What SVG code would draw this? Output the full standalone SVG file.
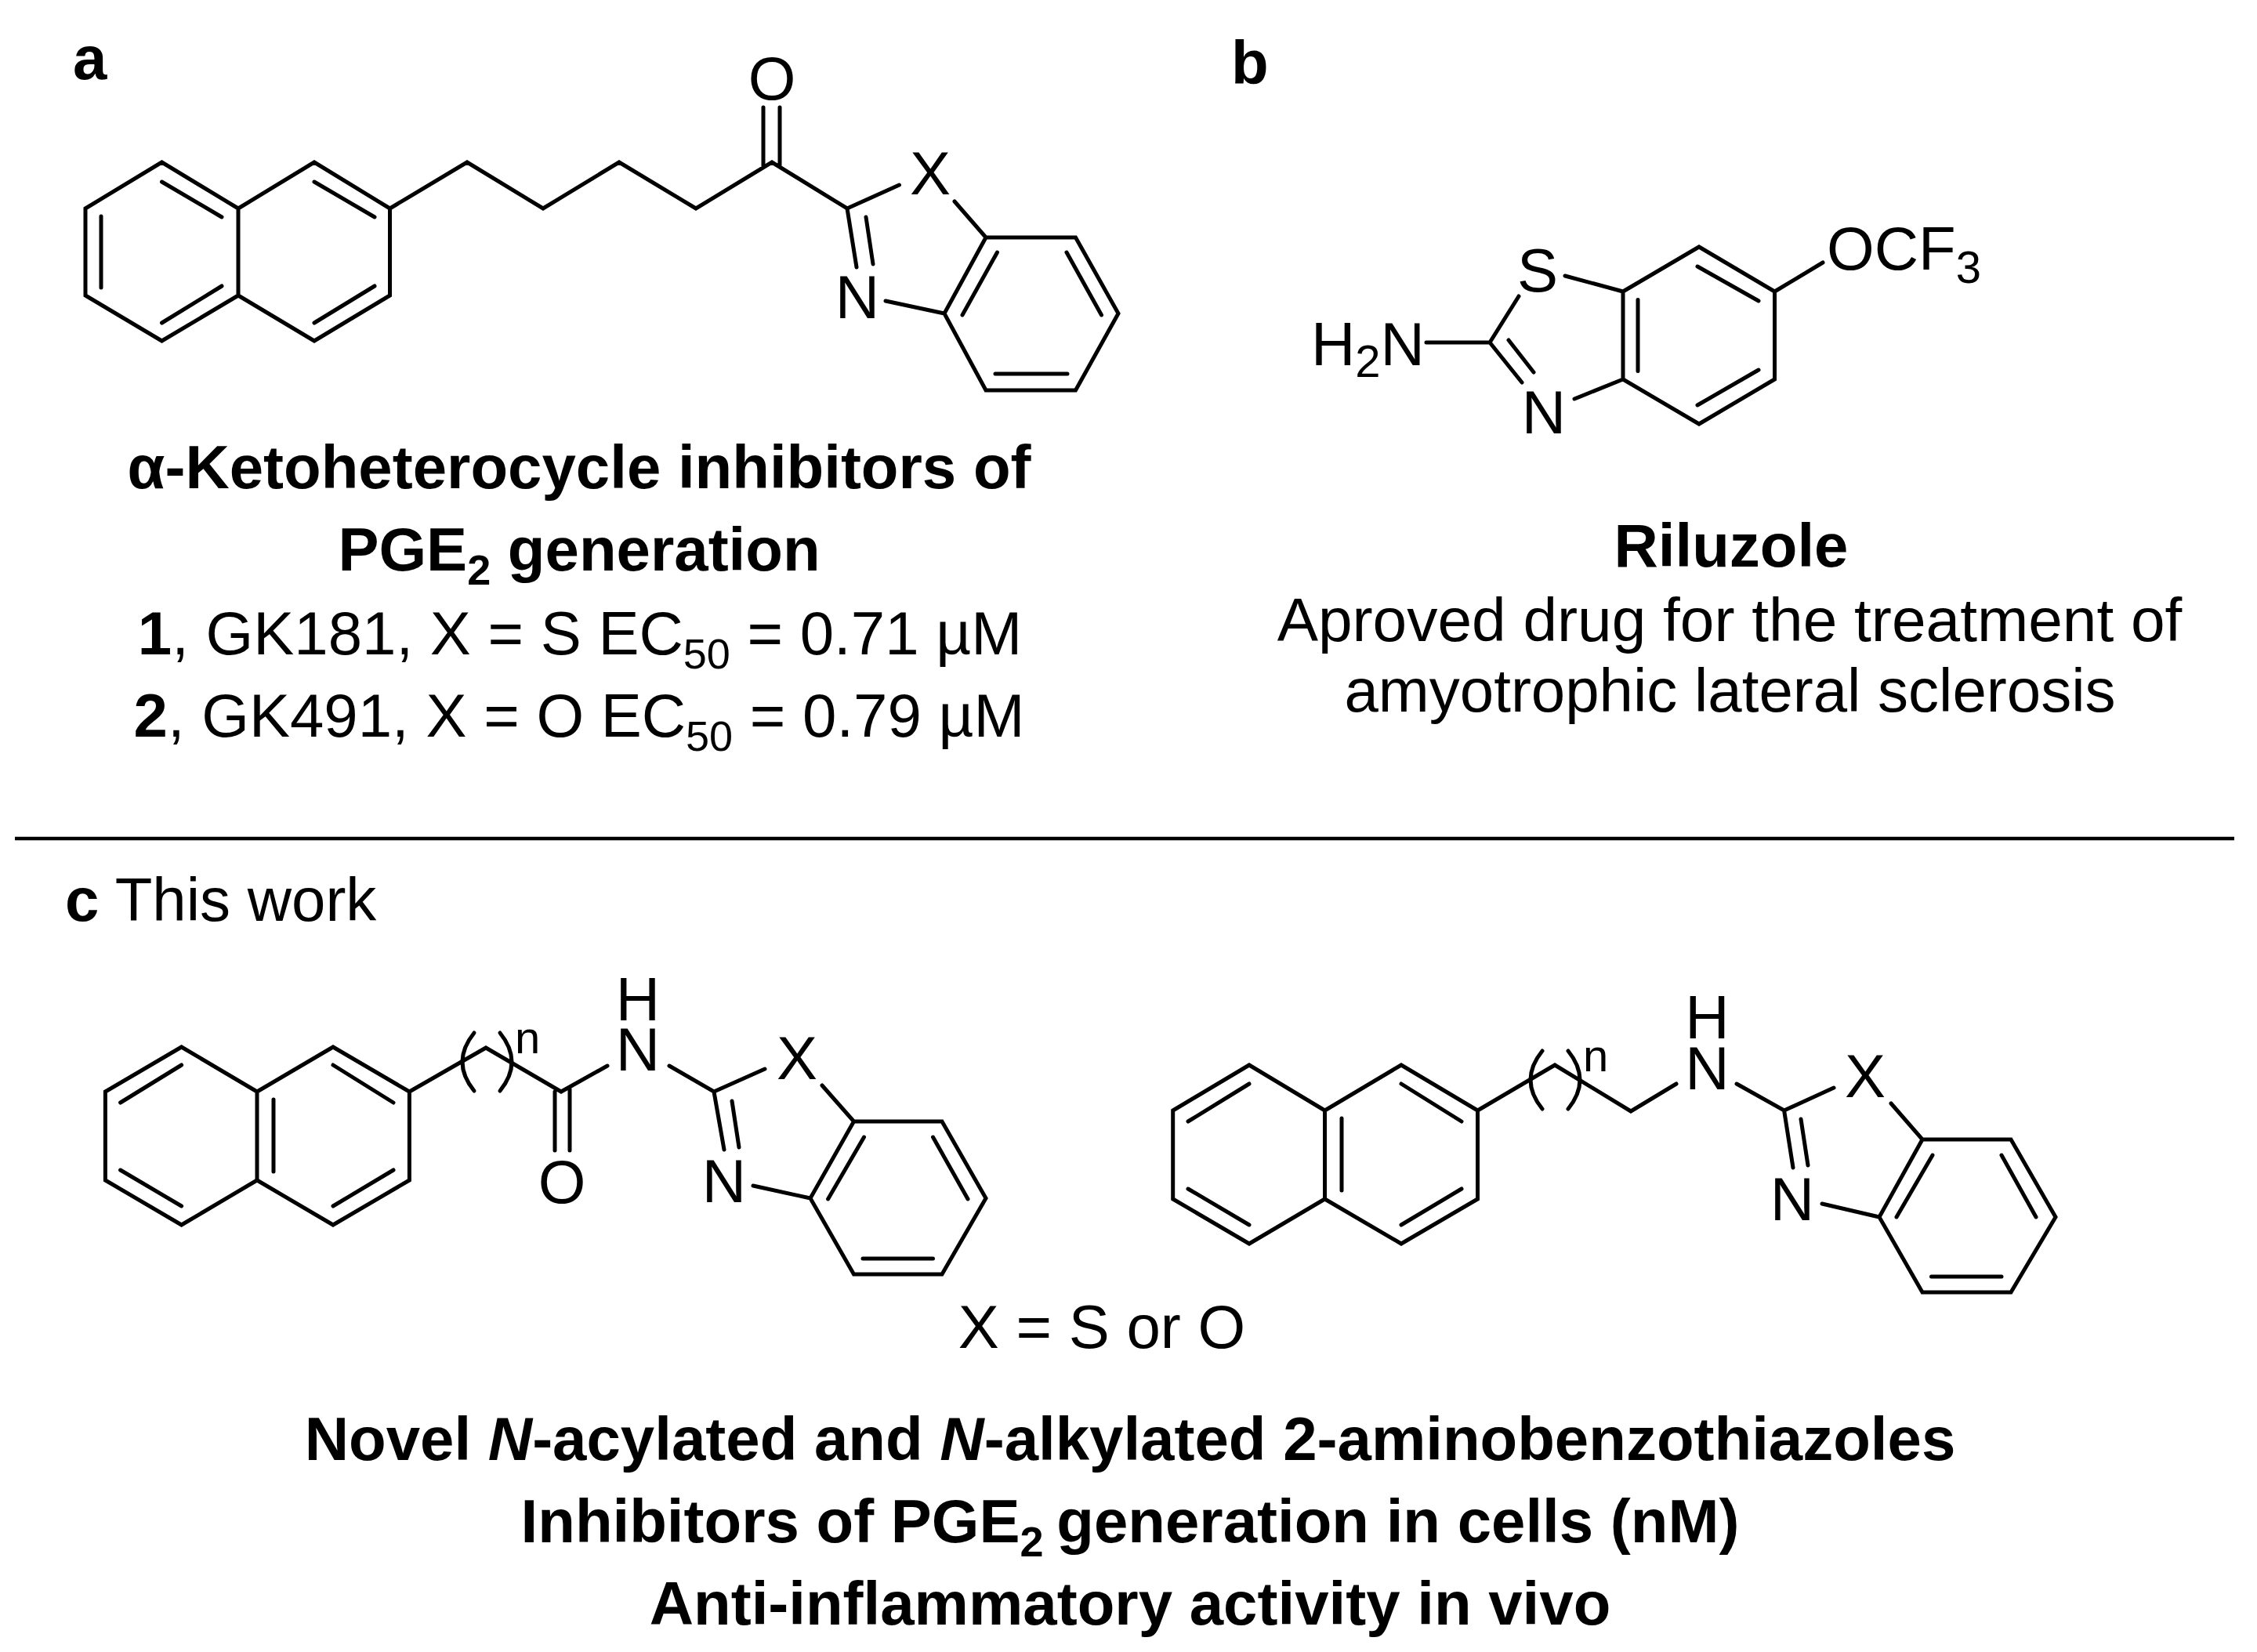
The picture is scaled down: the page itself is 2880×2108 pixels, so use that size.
<svg xmlns="http://www.w3.org/2000/svg" width="2880" height="2108" viewBox="0 0 2880 2108">
<style>
text{font-family:"Liberation Sans",Arial,sans-serif;fill:#000}
.b{font-weight:bold}
.m{text-anchor:middle}
.t{font-size:78px}
.a{font-size:78px}
.s{font-size:54px}
.bond{fill:none;stroke:#000;stroke-width:5;stroke-linecap:round;stroke-linejoin:miter}
</style>
<rect width="2880" height="2108" fill="#fff"/>
<g id="panel-a">
<text class="b" x="93" y="101" font-size="78">a</text>
<path class="bond" d="M304 266L206.500 207L109 266V377L206.500 435L304 377L401 435L497.500 377V266L401 207L304 266V377M206.500 232L283 277M129 276V367M206.500 412L283 365M401 232L478 277M401 412L478 365M497.500 266L596 207L693 266L790 207L888 266L985 207L1081 266L1147.500 236M974 137V213M995 137V213M1081 266L1093 341M1105 277L1114 337M1218 257L1258 303H1372.500L1427 400L1372.500 498H1258L1205 400L1258 303M1272.500 322L1228 402M1361 322L1405.500 402M1270 477H1362M1130 384L1205 400"/>
<text class="a m" x="985" y="127">O</text>
<text class="a m" x="1187" y="248">X</text>
<text class="a m" x="1094" y="406">N</text>
<text class="t b m" x="739" y="623">α-Ketoheterocycle inhibitors of</text>
<text class="t b m" x="739" y="728">PGE<tspan class="s" dy="18">2</tspan><tspan dy="-18"> generation</tspan></text>
<text class="t m" x="740" y="835"><tspan class="b">1</tspan>, GK181, X = S EC<tspan class="s" dy="18">50</tspan><tspan dy="-18"> = 0.71 µM</tspan></text>
<text class="t m" x="739" y="940"><tspan class="b">2</tspan>, GK491, X = O EC<tspan class="s" dy="18">50</tspan><tspan dy="-18"> = 0.79 µM</tspan></text>
</g>
<g id="panel-b">
<text class="b" x="1571" y="107" font-size="78">b</text>
<path class="bond" d="M2071 372L2168 315L2264.500 372V484L2168 541L2071 484V372M2090 382.500V473.600M2166 340L2244 384M2166 517L2244 472M2264.500 372L2326 335M1997 352L2071 372M1938 378L1901 437H1820M1901 437L1942 488M1925 434L1957 475M2009 509L2071 484"/>
<text class="a m" x="1962" y="372">S</text>
<text class="a m" x="1970" y="553">N</text>
<text class="a" x="2331" y="344">OCF<tspan font-size="58" dy="17">3</tspan></text>
<text class="a" x="1673" y="466">H<tspan font-size="58" dy="15">2</tspan><tspan dy="-15">N</tspan></text>
<text class="t b m" x="2209" y="723">Riluzole</text>
<text class="m" x="2207" y="818" font-size="78.400">Aproved drug for the treatment of</text>
<text class="t m" x="2207.500" y="908">amyotrophic lateral sclerosis</text>
</g>
<g id="rule"><path d="M19 1070H2851" stroke="#000" stroke-width="4.500" fill="none"/></g>
<g id="panel-c">
<text class="t" x="83" y="1175"><tspan class="b">c</tspan> This work</text>
<text class="t m" x="1406" y="1720">X = S or O</text>
<text class="t b m" x="1442" y="1863">Novel <tspan font-style="italic">N</tspan>-acylated and <tspan font-style="italic">N</tspan>-alkylated 2-aminobenzothiazoles</text>
<text class="t b m" x="1442" y="1968">Inhibitors of PGE<tspan class="s" dy="18">2</tspan><tspan dy="-18" dx="-5"> generation in cells (nM)</tspan></text>
<text class="t b m" x="1442" y="2073">Anti-inflammatory activity in vivo</text>
</g>
<g id="compound-amide">
<path class="bond" d="M328 1393L231.600 1336L134.400 1393V1506L231.600 1563L328 1506L425 1563L522.400 1506V1393L425 1336L328 1393V1506M231.600 1359L153.600 1407M231.600 1539L153.600 1493M425 1359L502 1407M425 1539L502 1493M349 1403V1495M522.400 1393L620 1337L716 1393L775 1360M708 1393V1468M727 1390V1468M854 1360L911 1393L976 1364M1049 1385L1089.500 1431H1202L1258 1529L1202 1626H1089.500L1034 1529L1089.500 1431M1102.500 1451L1056.600 1530M1190.500 1451L1235 1530M1101 1606H1190.500M911 1393L924 1467M934 1405L943 1464M961 1513L1034 1529"/>
<path class="bond" d="M605 1318Q575 1355 605 1392M638 1318Q668 1355 638 1392"/>
<text x="657" y="1344" font-size="58">n</text>
<text class="a m" x="814" y="1302">H</text>
<text class="a m" x="814" y="1366">N</text>
<text class="a m" x="1017" y="1377">X</text>
<text class="a m" x="924" y="1534">N</text>
<text class="a m" x="717" y="1535">O</text>
</g>
<g id="compound-amine">
<path class="bond" d="M1690.500 1417L1594 1359L1496.700 1417V1530L1594 1587L1690.500 1530L1788 1587L1885.500 1530V1417L1788 1359L1690.500 1417V1530M1594 1383L1516 1431M1594 1563L1516 1517M1788 1383L1865 1431M1788 1563L1865 1517M1712 1427V1519M1885.500 1417L1984 1359L2081 1418L2139 1383M2216 1383L2276.600 1417L2340 1388M2413 1408L2453 1454H2566L2623 1553L2566 1649H2453L2398 1553L2453 1454M2466 1474L2420 1553M2554 1474L2598 1553M2464.500 1629H2554M2276.600 1417L2288 1490M2298 1428L2307 1487M2325 1536L2398 1553"/>
<path class="bond" d="M1968 1341Q1938 1378 1968 1415M2001 1341Q2031 1378 2001 1415"/>
<text x="2020" y="1367" font-size="58">n</text>
<text class="a m" x="2178.500" y="1325">H</text>
<text class="a m" x="2178.500" y="1390">N</text>
<text class="a m" x="2380" y="1400">X</text>
<text class="a m" x="2287" y="1557">N</text>
</g>
</svg>
